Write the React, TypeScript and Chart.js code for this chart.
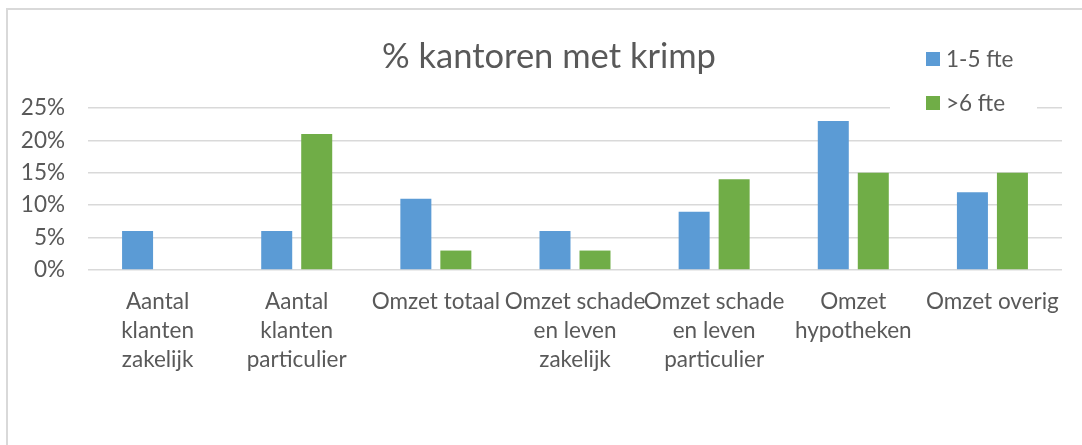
import React, { useEffect, useRef } from 'react';
import { Chart, registerables } from 'chart.js';

Chart.register(...registerables);

const titleText = '% kantoren met krimp';
const categories: (string | string[])[] = [
  ['Aantal', 'klanten', 'zakelijk'],
  ['Aantal', 'klanten', 'particulier'],
  'Omzet totaal',
  ['Omzet schade', 'en leven', 'zakelijk'],
  ['Omzet schade', 'en leven', 'particulier'],
  ['Omzet', 'hypotheken'],
  'Omzet overig',
];
const seriesSmallLabel = '1-5 fte';
const seriesSmall = [6, 6, 11, 6, 9, 23, 12];
const seriesLargeLabel = '>6 fte';
const seriesLarge = [0, 21, 3, 3, 14, 15, 15];
const yMin = 0;
const yMax = 25;
const yStep = 5;

const FONT = 'Lato, "Open Sans", sans-serif';
const TEXT = '#595959';
const GRID = '#d9d9d9';
const BLUE = '#5B9BD5';
const GREEN = '#70AD47';

// let the y tick labels extend into the layout padding instead of being clipped
const unclipYLabels = {
  id: 'unclipYLabels',
  afterLayout(chart: any) {
    if (chart.scales.y) chart.scales.y.left = 0;
  },
};

const legendPlugin = {
  id: 'excelLegend',
  afterDraw(chart: any) {
    const { ctx, chartArea } = chart;
    const x0 = chartArea.right - 172;
    ctx.save();
    ctx.fillStyle = '#ffffff';
    ctx.fillRect(x0, 28, 147, 84);
    ctx.font = `22.5px ${FONT}`;
    ctx.textBaseline = 'middle';
    ctx.textAlign = 'left';
    const rows = [42, 86];
    chart.data.datasets.forEach((ds: any, i: number) => {
      const y = rows[i];
      ctx.fillStyle = ds.backgroundColor;
      ctx.fillRect(x0 + 36, y, 14, 14);
      ctx.fillStyle = TEXT;
      ctx.fillText(ds.label, x0 + 56, y + 8);
    });
    ctx.restore();
  },
};

export default function App() {
  const ref = useRef<HTMLCanvasElement | null>(null);
  useEffect(() => {
    if (!ref.current) return;
    const chart = new Chart(ref.current, {
      type: 'bar',
      data: {
        labels: categories,
        datasets: [
          { label: seriesSmallLabel, data: seriesSmall, backgroundColor: BLUE, borderWidth: 0 },
          { label: seriesLargeLabel, data: seriesLarge, backgroundColor: GREEN, borderWidth: 0 },
        ],
      },
      options: {
        animation: false,
        responsive: false,
        maintainAspectRatio: false,
        layout: { padding: { left: 28, right: 20, top: 0, bottom: 0 } },
        datasets: {
          bar: { categoryPercentage: 0.575, barPercentage: 0.775 },
        },
        plugins: {
          legend: { display: false },
          tooltip: { enabled: false },
          title: {
            display: true,
            text: titleText,
            color: TEXT,
            font: { family: FONT, size: 34.5, weight: 'normal', lineHeight: 1.2 },
            padding: { top: 26, bottom: 30.6 },
          },
        },
        scales: {
          x: {
            grid: { display: false, drawTicks: false },
            border: { display: false },
            ticks: {
              color: TEXT,
              font: { family: FONT, size: 22.5, lineHeight: '29px' },
              padding: 17.5,
              autoSkip: false,
              maxRotation: 0,
              minRotation: 0,
            },
            afterFit(scale: any) {
              scale.height = 175;
            },
          },
          y: {
            min: yMin,
            max: yMax,
            grid: { color: GRID, lineWidth: 1.5, drawTicks: false },
            border: { display: false },
            ticks: {
              stepSize: yStep,
              color: TEXT,
              font: { family: FONT, size: 22.5 },
              padding: 23,
              callback: (v: any) => `${v}%`,
            },
            afterFit(scale: any) {
              scale.width = 52;
            },
          },
        },
      },
      plugins: [unclipYLabels, legendPlugin],
    });
    return () => chart.destroy();
  }, []);

  return (
    <div
      style={{
        position: 'absolute',
        left: 6,
        top: 8,
        width: 1076,
        height: 437,
        borderTop: '2px solid #d9d9d9',
        borderLeft: '2px solid #d9d9d9',
        boxSizing: 'border-box',
        background: '#fff',
        overflow: 'hidden',
      }}
    >
      <canvas ref={ref} width={1074} height={435} style={{ display: 'block', width: 1074, height: 435 }} />
    </div>
  );
}
